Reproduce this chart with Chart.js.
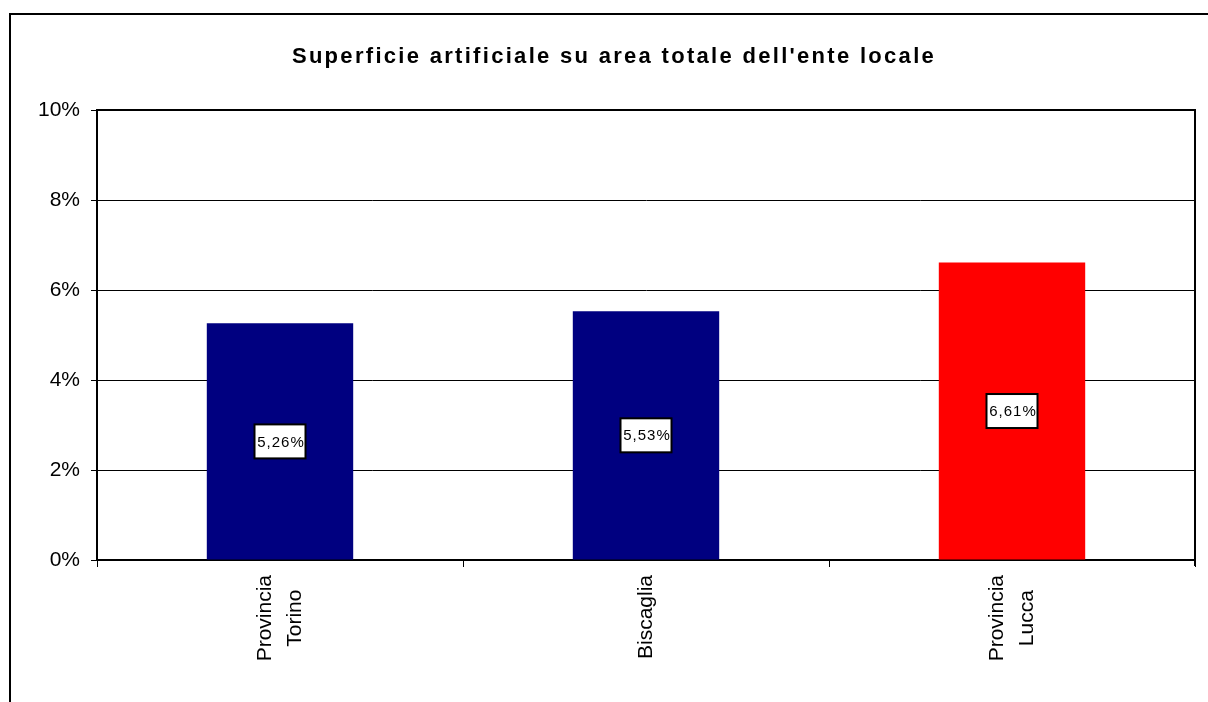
<!DOCTYPE html>
<html>
<head>
<meta charset="utf-8">
<script src="https://cdn.jsdelivr.net/npm/chart.js@4/dist/chart.umd.min.js"></script>
<style>
  html, body { margin: 0; padding: 0; background: #fff; }
  #wrap { width: 1208px; height: 702px; }
</style>
</head>
<body>
<div id="wrap"><canvas id="c" width="1208" height="702"></canvas></div>
<script>
const titleText = "Superficie artificiale su area totale dell'ente locale";
const categories = [["Provincia", "Torino"], ["Biscaglia"], ["Provincia", "Lucca"]];
const values = [5.26, 5.53, 6.61];
const barColors = ["#000080", "#000080", "#FF0000"];
const yTicks = [0, 2, 4, 6, 8, 10];

const FONT = "'Liberation Sans', Arial, sans-serif";

const framePlugin = {
  id: 'frame',
  beforeDraw(chart) {
    const ctx = chart.ctx;
    ctx.save();
    ctx.fillStyle = '#fff';
    ctx.fillRect(0, 0, chart.width, chart.height);
    ctx.strokeStyle = '#000';
    ctx.lineWidth = 2;
    ctx.strokeRect(10, 14, chart.width + 20, chart.height + 20);
    // centre multi-line rotated category labels on their tick
    const xs = chart.scales.x;
    const items = xs.getLabelItems(chart.chartArea);
    items.forEach(it => {
      if (it._centred) return;
      const lines = Array.isArray(it.label) ? it.label : [it.label];
      const lh = it.font.lineHeight;
      ctx.font = it.font.string;
      const maxW = Math.max(...lines.map(l => ctx.measureText(l).width));
      it.options.translation[0] -= (lines.length - 1) * lh / 2;
      it.options.translation[1] += maxW / 2;
      it.options.textAlign = 'center';
      it._centred = true;
    });
    ctx.restore();
  },
  afterDatasetsDraw(chart) {
    const ctx = chart.ctx;
    const a = chart.chartArea;
    ctx.save();
    ctx.strokeStyle = '#000';
    ctx.lineWidth = 2;
    ctx.beginPath();
    ctx.moveTo(a.left, a.top);
    ctx.lineTo(a.right, a.top);
    ctx.lineTo(a.right, a.bottom + 6);
    ctx.stroke();
    // data labels
    const meta = chart.getDatasetMeta(0);
    ctx.font = "15px " + FONT;
    ctx.letterSpacing = '1px';
    ctx.textAlign = 'center';
    ctx.textBaseline = 'middle';
    meta.data.forEach((bar, i) => {
      const p = bar.getProps(['x', 'y', 'base'], true);
      const cy = (p.y + p.base) / 2;
      const w = 51, h = 34;
      ctx.fillStyle = '#fff';
      ctx.fillRect(p.x - w / 2, cy - h / 2, w, h);
      ctx.lineWidth = 2;
      ctx.strokeStyle = '#000';
      ctx.strokeRect(p.x - w / 2, cy - h / 2, w, h);
      ctx.fillStyle = '#000';
      const txt = values[i].toFixed(2).replace('.', ',') + '%';
      ctx.fillText(txt, p.x + 1, cy + 1);
    });
    ctx.restore();
  },
  afterDraw(chart) {
    const ctx = chart.ctx;
    ctx.save();
    ctx.font = "bold 22px " + FONT;
    ctx.letterSpacing = '2.3px';
    ctx.fillStyle = '#000';
    ctx.textAlign = 'center';
    ctx.textBaseline = 'alphabetic';
    ctx.fillText(titleText, 614, 63);
    ctx.restore();
  }
};

new Chart(document.getElementById('c'), {
  type: 'bar',
  data: {
    labels: categories,
    datasets: [{
      data: values,
      backgroundColor: barColors,
      borderWidth: 0,
      barPercentage: 0.4,
      categoryPercentage: 1.0
    }]
  },
  options: {
    responsive: false,
    animation: false,
    devicePixelRatio: 1,
    layout: { padding: { top: 110, right: 13, left: 0, bottom: 0 } },
    plugins: {
      legend: { display: false },
      title: { display: false },
      tooltip: { enabled: false }
    },
    scales: {
      x: {
        offset: true,
        grid: { display: true, drawOnChartArea: false, drawTicks: true, tickLength: 7, color: '#000', lineWidth: 1, offset: true },
        border: { display: true, color: '#000', width: 2 },
        ticks: {
          color: '#000',
          font: { family: FONT, size: 21, lineHeight: 1.45 },
          minRotation: 90, maxRotation: 90,
          autoSkip: false,
          padding: 8
        },
        afterFit(scale) { scale.height = 142; }
      },
      y: {
        min: 0, max: 10,
        afterBuildTicks(scale) { scale.ticks = yTicks.map(v => ({ value: v })); },
        grid: { color: '#000', lineWidth: 1, drawTicks: true, tickLength: 6 },
        border: { display: true, color: '#000', width: 2 },
        ticks: {
          color: '#000',
          font: { family: FONT, size: 21 },
          padding: 11,
          callback: v => v + '%'
        },
        afterFit(scale) { scale.width = 97; }
      }
    }
  },
  plugins: [framePlugin]
});
</script>
</body>
</html>
